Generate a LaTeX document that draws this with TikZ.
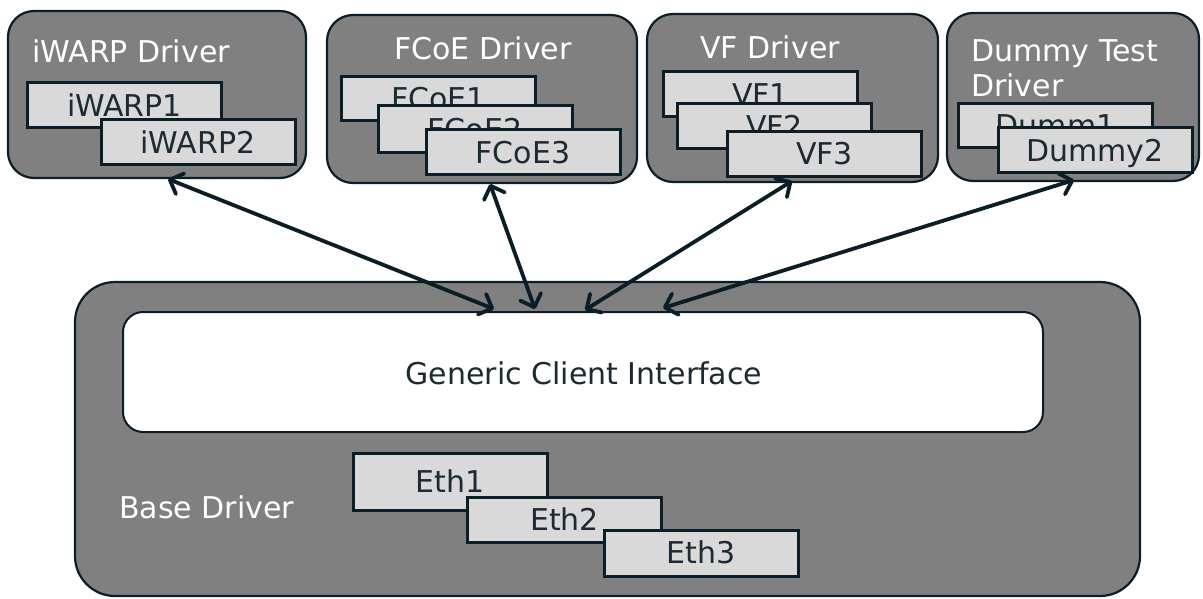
\documentclass[tikz,border=0pt]{standalone}
\usepackage{fontspec}
\setmainfont{DejaVu Sans}
\usetikzlibrary{arrows.meta}
\definecolor{dk}{HTML}{0B1D26}
\definecolor{gfill}{HTML}{808080}
\definecolor{lfill}{HTML}{D9D9D9}
\definecolor{tdark}{HTML}{1B2A33}
\tikzset{
  drv/.style={draw=dk, fill=gfill, line width=2.2pt, rounded corners=26pt, inner sep=0pt},
  basebox/.style={draw=dk, fill=gfill, line width=2.2pt, rounded corners=40pt, inner sep=0pt},
  whitebox/.style={draw=dk, fill=white, line width=2pt, rounded corners=20pt, inner sep=0pt},
  lbox/.style={draw=dk, fill=lfill, line width=3pt, inner sep=0pt, minimum width=194pt, minimum height=45pt,
    font=\fontsize{30}{35}\selectfont, text=tdark, text height=21.5pt, text depth=0pt},
  wlabel/.style={font=\fontsize{30}{35}\selectfont, text=white, inner sep=0pt},
  blabel/.style={font=\fontsize{30}{35}\selectfont, text=tdark, inner sep=0pt},
  dbl/.style={draw=dk, line width=3.8pt, line cap=round,
    {Straight Barb[length=11pt,width=22pt,round]}-{Straight Barb[length=11pt,width=22pt,round]}}
}
\begin{document}
\begin{tikzpicture}[x=1pt,y=-1pt]
\useasboundingbox (0,0) rectangle (1203,599);
% driver boxes
\node[drv, minimum width=298pt, minimum height=167pt] (iw) at (157,94.5) {};
\node[drv, minimum width=310pt, minimum height=168pt] (fc) at (482,99) {};
\node[drv, minimum width=291pt, minimum height=168pt] (vf) at (792.5,98) {};
\node[drv, minimum width=252pt, minimum height=168pt] (du) at (1073,97) {};
% base
\node[basebox, minimum width=1065pt, minimum height=314pt] (base) at (607.5,439) {};
\node[whitebox, minimum width=920pt, minimum height=120pt] (gci) at (583,372) {};
% labels
\node[wlabel, anchor=base west] (liw) at (32,62.5) {iWARP Driver};
\node[wlabel, anchor=base] (lfc) at (483,60) {FCoE Driver};
\node[wlabel, anchor=base west] (lvf) at (700,59) {VF Driver};
\node[wlabel, anchor=base west] (ldu1) at (971,62) {Dummy Test};
\node[wlabel, anchor=base west] (ldu2) at (971,97) {Driver};
\node[blabel, anchor=base] (lgci) at (584,384) {Generic Client Interface};
\node[wlabel, anchor=base west] (lbase) at (119,518) {Base Driver};
% light boxes
\node[lbox] (iw1) at (124.5,105.5) {iWARP1};
\node[lbox] (iw2) at (198,142.5) {iWARP2};
\node[lbox, minimum height=44pt] (fc1) at (438.5,99) {FCoE1};
\node[lbox, minimum height=47pt] (fc2) at (475,129.5) {FCoE2};
\node[lbox] (fc3) at (523,152.5) {FCoE3};
\node[lbox] (vf1) at (760.5,94.5) {VF1};
\node[lbox] (vf2) at (774.5,126.5) {VF2};
\node[lbox] (vf3) at (824.5,154) {VF3};
\node[lbox, minimum height=44pt] (du1) at (1055.5,126) {Dumm1};
\node[lbox] (du2) at (1095,150.5) {Dummy2};
\node[lbox, minimum height=57pt] (e1) at (450,481.5) {Eth1};
\node[lbox] (e2) at (564.5,519.5) {Eth2};
\node[lbox, minimum height=46pt] (e3) at (701,553) {Eth3};
% arrow end points
\coordinate (a1s) at (168,179);
\coordinate (a1e) at (494,309);
\coordinate (a2s) at (490,184);
\coordinate (a2e) at (535,309);
\coordinate (a3s) at (792,181);
\coordinate (a3e) at (585,310);
\coordinate (a4s) at (1074,180);
\coordinate (a4e) at (663,308);
\draw[dbl] (a1s) -- (a1e);
\draw[dbl] (a2s) -- (a2e);
\draw[dbl] (a3s) -- (a3e);
\draw[dbl] (a4s) -- (a4e);
\end{tikzpicture}
\end{document}
